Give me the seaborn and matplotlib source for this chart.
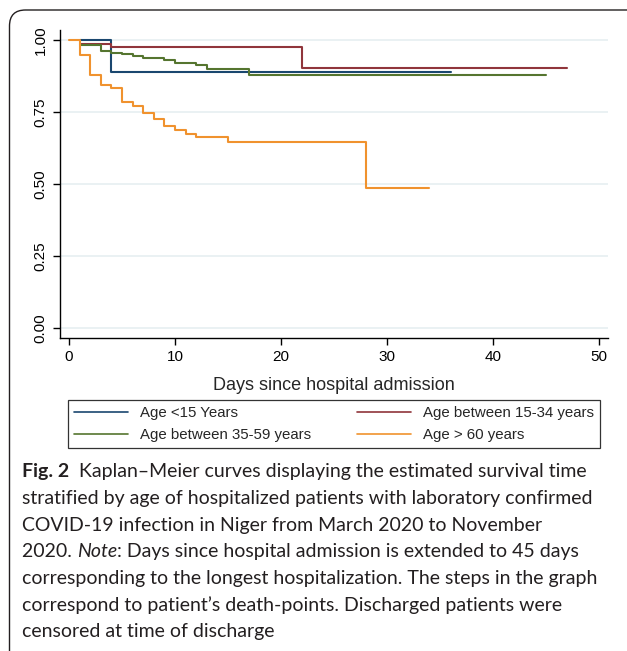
import numpy as np
import pandas as pd
import matplotlib
matplotlib.use("Agg")
import matplotlib.pyplot as plt
from matplotlib.patches import FancyBboxPatch
import seaborn as sns

# Kaplan-Meier step values (day, survival)
days_lt15 = [1, 4, 36]
surv_lt15 = [1.0, 0.889, 0.889]

days_15_34 = [1, 4, 22, 47]
surv_15_34 = [0.986, 0.977, 0.904, 0.904]

days_35_59 = [1, 3, 4, 5, 6, 7, 9, 10, 12, 13, 17, 45]
surv_35_59 = [0.984, 0.962, 0.956, 0.951, 0.944, 0.939, 0.933, 0.922, 0.916, 0.902, 0.878, 0.878]

days_gt60 = [0, 1, 2, 3, 4, 5, 6, 7, 8, 9, 10, 11, 12, 15, 28, 34]
surv_gt60 = [1.0, 0.950, 0.878, 0.844, 0.836, 0.786, 0.773, 0.749, 0.727, 0.703,
             0.690, 0.674, 0.664, 0.647, 0.487, 0.487]

labels = ["Age <15 Years", "Age between 15-34 years",
          "Age between 35-59 years", "Age > 60 years"]
colors = ["#1a476f", "#90353b", "#55752f", "#f0922e"]

x_ticks = [0, 10, 20, 30, 40, 50]
y_ticks = [0.0, 0.25, 0.5, 0.75, 1.0]

caption_lines = [
    [("Fig. 2", "bold"), ("  Kaplan\u2013Meier curves displaying the estimated survival time", "normal")],
    [("stratified by age of hospitalized patients with laboratory confirmed", "normal")],
    [("COVID-19 infection in Niger from March 2020 to November", "normal")],
    [("2020. ", "normal"), ("Note", "italic"), (": Days since hospital admission is extended to 45 days", "normal")],
    [("corresponding to the longest hospitalization. The steps in the graph", "normal")],
    [("correspond to patient\u2019s death-points. Discharged patients were", "normal")],
    [("censored at time of discharge", "normal")],
]

frames = []
for lab, d, s in zip(labels, [days_lt15, days_15_34, days_35_59, days_gt60],
                     [surv_lt15, surv_15_34, surv_35_59, surv_gt60]):
    frames.append(pd.DataFrame({"day": d, "surv": s, "group": lab}))
df = pd.concat(frames, ignore_index=True)

sns.set_style("white")
plt.rcParams["font.family"] = ["Liberation Sans", "DejaVu Sans"]

W, H = 627, 651
fig = plt.figure(figsize=(W / 100, H / 100), dpi=100)
ax = fig.add_axes([60 / W, 1 - 337.7 / H, 548 / W, (337.7 - 30) / H])

sns.lineplot(data=df, x="day", y="surv", hue="group", hue_order=labels,
             palette=dict(zip(labels, colors)), drawstyle="steps-post",
             estimator=None, linewidth=1.5, ax=ax, legend=False)

ax.set_xlim(-0.85, 50.85)
ax.set_ylim(-0.033, 1.036)
ax.set_xticks(x_ticks)
ax.set_yticks(y_ticks)
ax.set_yticklabels([f"{v:.2f}" for v in y_ticks], rotation=90, va="center")
ax.tick_params(axis="both", direction="out", length=5, width=1, color="black",
               labelsize=11, labelcolor="black", bottom=True, left=True, pad=4)
ax.grid(axis="y", color="#e6eff1", linewidth=1.2)
ax.grid(axis="x", visible=False)
for side in ["top", "right"]:
    ax.spines[side].set_visible(False)
for side in ["left", "bottom"]:
    ax.spines[side].set_color("black")
    ax.spines[side].set_linewidth(1)
ax.set_xlabel("Days since hospital admission", fontsize=13, labelpad=9)
ax.set_ylabel("")

# legend: two columns, row order as in the figure
handles = [plt.Line2D([], [], color=c, linewidth=1.2) for c in colors]
order = [0, 2, 1, 3]
leg = fig.legend([handles[i] for i in order], [labels[i] for i in order],
                 ncol=2, loc="upper left", mode="expand",
                 bbox_to_anchor=(68 / W, 1 - 400 / H, 532 / W, 0.0),
                 borderaxespad=0, fancybox=False, edgecolor="black",
                 fontsize=10.8, handlelength=3.6, handletextpad=0.75,
                 borderpad=0.42, labelspacing=0.5, columnspacing=1)
leg.get_frame().set_linewidth(0.9)

# outer rounded panel border
border = FancyBboxPatch((0.095, -1.0), 10, 7.41, boxstyle="round,pad=0,rounding_size=0.16",
                        transform=fig.dpi_scale_trans, facecolor="none",
                        edgecolor="#231f20", linewidth=1.0)
fig.patches.append(border)

# caption
fig.canvas.draw()
renderer = fig.canvas.get_renderer()
cap_font = ["Lato", "DejaVu Sans"]
y0 = 472
for i, pieces in enumerate(caption_lines):
    x = 22
    y = 1 - (y0 + i * 26.6) / H
    for txt, style in pieces:
        t = fig.text(x / W, y, txt, fontsize=14.0, family=cap_font, color="#231f20",
                     va="center", ha="left",
                     fontweight="bold" if style == "bold" else "normal",
                     fontstyle="italic" if style == "italic" else "normal")
        x += t.get_window_extent(renderer).width

fig.savefig("out.png", dpi=100)
